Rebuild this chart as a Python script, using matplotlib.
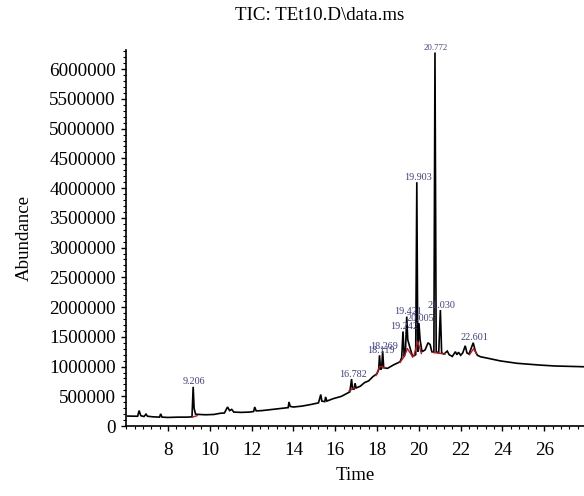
import matplotlib
matplotlib.use("Agg")
import matplotlib.pyplot as plt
from matplotlib.ticker import MultipleLocator, FixedLocator

# ---- data ----
time = [6.08, 6.55, 6.62, 6.70, 6.85, 6.95, 7.02, 7.3, 7.6, 7.65, 7.72, 8.0, 8.5, 8.9,
        9.15, 9.206, 9.25, 9.32, 9.5, 9.8, 10.2, 10.5, 10.7, 10.85, 10.95, 11.05, 11.15,
        11.5, 11.9, 12.1, 12.15, 12.22, 12.5, 13.0, 13.5, 13.75, 13.79, 13.85, 14.0,
        14.4, 14.8, 15.2, 15.31, 15.36, 15.5, 15.54, 15.6, 15.9, 16.3, 16.7, 16.782,
        16.83, 16.9, 16.95, 17.0, 17.2, 17.4, 17.6, 17.8, 18.0, 18.08, 18.119, 18.17,
        18.22, 18.269, 18.32, 18.5, 18.8, 19.1, 19.18, 19.242, 19.3, 19.36, 19.421,
        19.47, 19.55, 19.7, 19.85, 19.903, 19.95, 20.005, 20.06, 20.15, 20.3, 20.44,
        20.54, 20.62, 20.72, 20.772, 20.83, 20.95, 21.030, 21.09, 21.2, 21.36, 21.45,
        21.6, 21.75, 21.82, 21.9, 22.0, 22.1, 22.22, 22.3, 22.4, 22.601, 22.7, 22.8,
        22.95, 23.3, 23.9, 24.7, 25.8, 26.5, 27.9]
abundance = [168000, 165000, 260000, 175000, 160000, 200000, 165000, 155000, 150000,
             205000, 150000, 145000, 150000, 150000, 155000, 660000, 300000, 200000,
             195000, 190000, 195000, 215000, 220000, 320000, 260000, 280000, 235000,
             230000, 235000, 245000, 320000, 255000, 260000, 280000, 300000, 310000,
             405000, 330000, 320000, 335000, 360000, 390000, 530000, 420000, 410000,
             490000, 420000, 460000, 500000, 575000, 790000, 620000, 620000, 720000,
             640000, 670000, 730000, 760000, 830000, 880000, 950000, 1190000, 950000,
             970000, 1260000, 980000, 970000, 1030000, 1080000, 1150000, 1590000,
             1170000, 1250000, 1840000, 1450000, 1350000, 1170000, 1200000, 4100000,
             1250000, 1730000, 1450000, 1250000, 1280000, 1400000, 1370000, 1250000,
             1240000, 6280000, 1250000, 1230000, 1950000, 1230000, 1210000, 1260000,
             1200000, 1170000, 1250000, 1200000, 1240000, 1190000, 1230000, 1350000,
             1230000, 1210000, 1400000, 1260000, 1190000, 1165000, 1140000, 1095000,
             1055000, 1025000, 1010000, 997000]

# integration baselines (red)
base_t = [[9.16, 9.40], [16.66, 16.92], [17.95, 18.12], [18.18, 18.40],
          [19.10, 19.30, 19.45], [19.45, 19.70], [19.75, 19.95, 20.12],
          [20.65, 21.25], [22.42, 22.62, 22.75]]
base_y = [[150000, 175000], [590000, 640000], [850000, 1000000], [1000000, 980000],
          [1070000, 1170000, 1300000], [1300000, 1170000], [1170000, 1420000, 1220000],
          [1240000, 1210000], [1200000, 1300000, 1220000]]

peak_rt = [9.206, 16.782, 18.119, 18.269, 19.242, 19.421, 19.903, 20.005, 20.772,
           21.030, 22.601]
peak_labels = ["9.206", "16.782", "18.119", "18.269", "19.242", "19.421", "19.903",
               "20.005", "20.772", "21.030", "22.601"]
peak_height = [660000, 790000, 1190000, 1260000, 1590000, 1840000, 4100000, 1730000,
               6280000, 1950000, 1400000]

x_ticks = [8, 10, 12, 14, 16, 18, 20, 22, 24, 26]
y_ticks = [0, 500000, 1000000, 1500000, 2000000, 2500000, 3000000, 3500000, 4000000,
           4500000, 5000000, 5500000, 6000000]

plt.rcParams['font.family'] = ['Liberation Serif', 'DejaVu Serif']

fig = plt.figure(figsize=(5.84, 4.96), dpi=100)
ax = fig.add_axes([0.216, 0.141, 0.784, 0.758])

ax.plot(time, abundance, color='black', lw=1.2, solid_joinstyle='miter')
for bt, by in zip(base_t, base_y):
    ax.plot(bt, by, color='#c0141c', lw=1.0)

for rt, lab, h in zip(peak_rt, peak_labels, peak_height):
    fs = 6.3 if lab == "20.772" else 7.3
    ax.annotate(lab, (rt, h), xytext=(0.8, 0.3), textcoords='offset points',
                ha='center', va='bottom', fontsize=fs, color='#3d3f8c')

ax.set_xlim(6.0, 27.9)
ax.set_ylim(0, 6320000)
ax.xaxis.set_major_locator(FixedLocator(x_ticks))
ax.xaxis.set_minor_locator(MultipleLocator(0.4))
ax.yaxis.set_major_locator(FixedLocator(y_ticks))
ax.yaxis.set_minor_locator(MultipleLocator(100000))
ax.set_xticklabels([str(v) for v in x_ticks])
ax.set_yticklabels([str(v) for v in y_ticks])
ax.tick_params(axis='both', which='major', direction='out', length=3.5, width=1,
               labelsize=13.8)
ax.tick_params(axis='x', which='major', pad=8)
ax.tick_params(axis='y', which='major', pad=4)
ax.tick_params(axis='both', which='minor', direction='out', length=2, width=0.8)
for s in ['top', 'right']:
    ax.spines[s].set_visible(False)
ax.spines['left'].set_linewidth(1.2)
ax.spines['bottom'].set_linewidth(1.2)

ax.set_xlabel("Time", fontsize=13.6, labelpad=6)
ax.set_ylabel("Abundance", fontsize=13.6, labelpad=12)
fig.text(0.548, 0.968, "TIC: TEt10.D\\data.ms", ha='center', va='center', fontsize=13.6)

fig.savefig("out.png", dpi=100)
